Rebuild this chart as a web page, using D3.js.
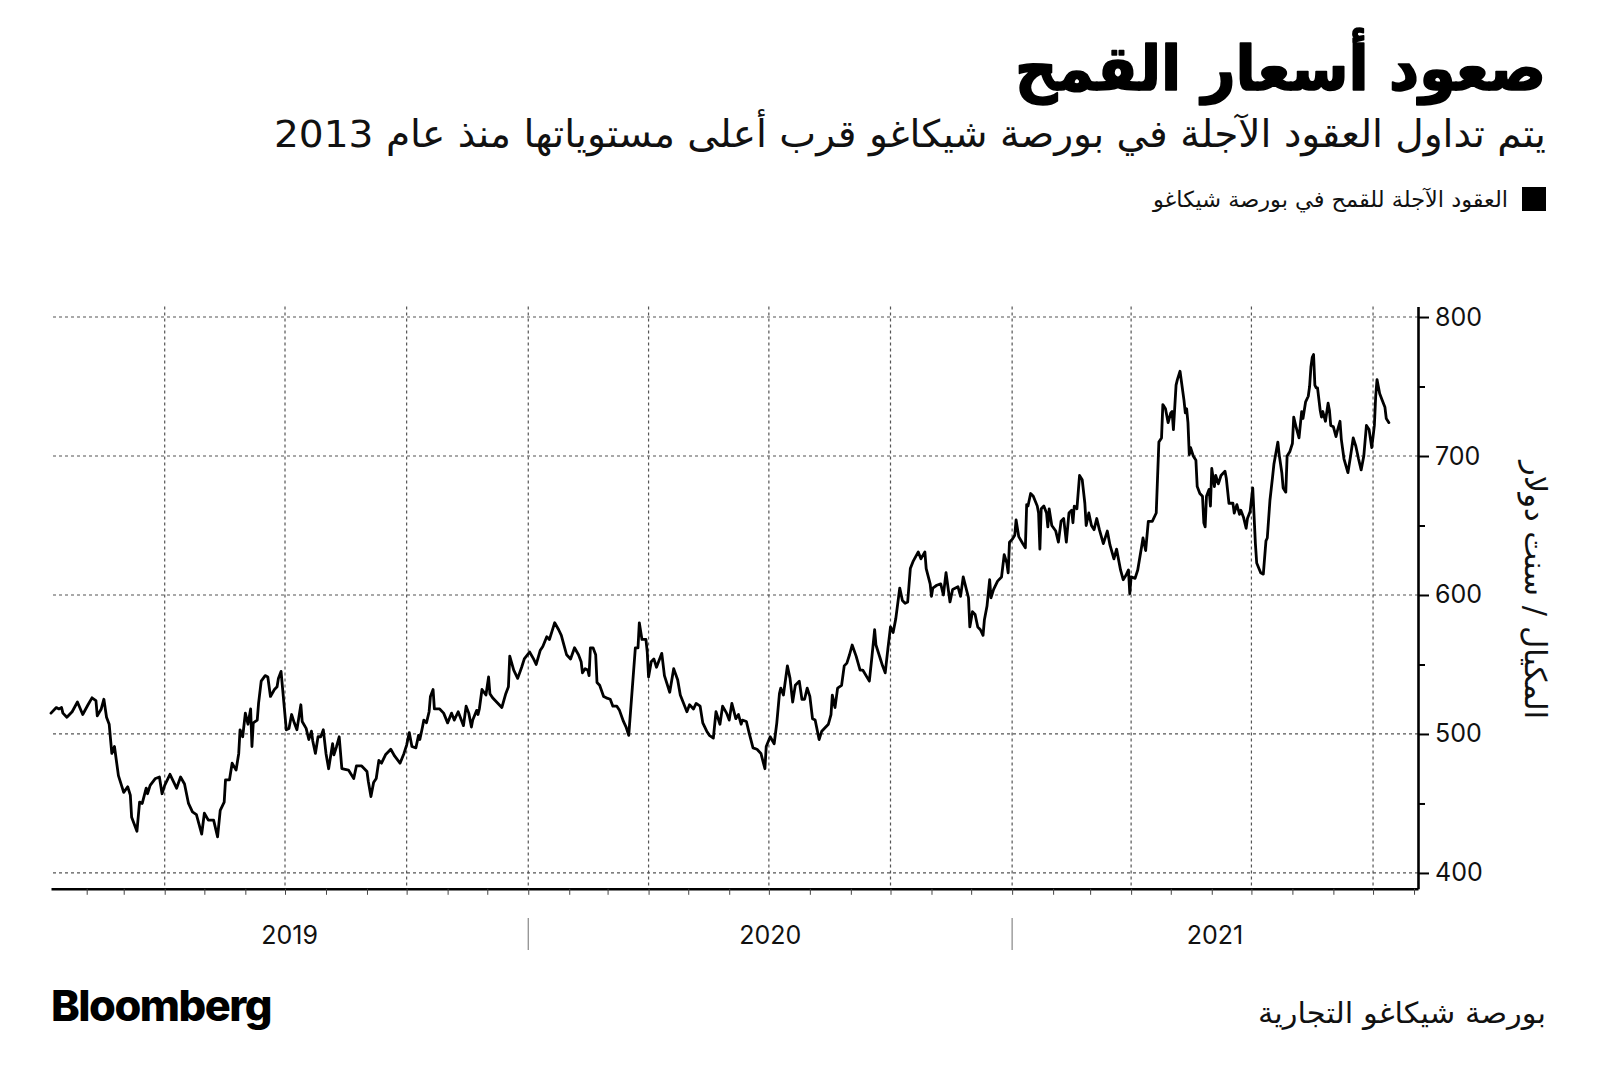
<!DOCTYPE html>
<html><head><meta charset="utf-8">
<script src="https://cdn.jsdelivr.net/npm/d3@7"></script>
<style>body{margin:0;background:#fff} svg{display:block}</style>
</head><body>
<svg id="chart" width="1600" height="1089"></svg>
<script>
// ---------------- data ----------------
const titleText = "صعود أسعار القمح";
const subtitleText = "يتم تداول العقود الآجلة في بورصة شيكاغو قرب أعلى مستوياتها منذ عام 2013";
const legendText = "العقود الآجلة للقمح في بورصة شيكاغو";
const yAxisTitle = "المكيال / سنت دولار";
const sourceText = "بورصة شيكاغو التجارية";
const yTickValues = [400, 500, 600, 700, 800];
const yMinorTickValues = [450, 550, 650, 750];
const yearLabels = ["2019", "2020", "2021"];

const dates = [
"2019-01-05","2019-01-09","2019-01-11","2019-01-13","2019-01-14","2019-01-17","2019-01-21","2019-01-25","2019-01-29","2019-02-02",
"2019-02-05","2019-02-08","2019-02-09","2019-02-12","2019-02-14","2019-02-16","2019-02-18","2019-02-20","2019-02-22","2019-02-25",
"2019-03-01","2019-03-04","2019-03-06","2019-03-07","2019-03-11","2019-03-13","2019-03-15","2019-03-18","2019-03-19","2019-03-21",
"2019-03-25","2019-03-28","2019-03-30","2019-04-01","2019-04-05","2019-04-07","2019-04-10","2019-04-13","2019-04-16","2019-04-19",
"2019-04-22","2019-04-25","2019-04-29","2019-05-01","2019-05-04","2019-05-08","2019-05-11","2019-05-13","2019-05-16","2019-05-17",
"2019-05-20","2019-05-22","2019-05-25","2019-05-27","2019-05-28","2019-05-30","2019-06-01","2019-06-03","2019-06-05","2019-06-06",
"2019-06-07","2019-06-10","2019-06-11","2019-06-13","2019-06-16","2019-06-18","2019-06-20","2019-06-23","2019-06-25","2019-06-26",
"2019-06-28",
"2019-07-02","2019-07-04","2019-07-06","2019-07-08","2019-07-10","2019-07-13","2019-07-14","2019-07-17","2019-07-19","2019-07-21",
"2019-07-22","2019-07-24","2019-07-26","2019-07-28","2019-07-30","2019-08-01","2019-08-03","2019-08-06","2019-08-07","2019-08-09",
"2019-08-11","2019-08-13","2019-08-18","2019-08-22","2019-08-24","2019-08-28","2019-09-01","2019-09-02","2019-09-04","2019-09-06",
"2019-09-08","2019-09-10","2019-09-12","2019-09-15","2019-09-19","2019-09-22","2019-09-26","2019-09-29","2019-10-01","2019-10-03",
"2019-10-05","2019-10-08","2019-10-10","2019-10-11","2019-10-13","2019-10-14","2019-10-16","2019-10-18","2019-10-19","2019-10-21",
"2019-10-22","2019-10-26","2019-10-29","2019-11-01","2019-11-04","2019-11-06","2019-11-09","2019-11-11","2019-11-13","2019-11-15",
"2019-11-17","2019-11-19","2019-11-20","2019-11-23","2019-11-24","2019-11-25","2019-11-27","2019-11-30","2019-12-02","2019-12-03",
"2019-12-05","2019-12-12","2019-12-15","2019-12-17",
"2019-12-18","2019-12-21","2019-12-24","2019-12-27","2019-12-29","2020-01-02","2020-01-05","2020-01-07","2020-01-10","2020-01-12",
"2020-01-15","2020-01-17","2020-01-19","2020-01-21","2020-01-24","2020-01-26","2020-01-28","2020-01-30","2020-02-02","2020-02-05",
"2020-02-08","2020-02-10","2020-02-11","2020-02-13","2020-02-15","2020-02-16","2020-02-17","2020-02-19","2020-02-21","2020-02-22",
"2020-02-24","2020-02-27","2020-02-29","2020-03-03","2020-03-05","2020-03-08","2020-03-10","2020-03-13","2020-03-15","2020-03-17",
"2020-03-22","2020-03-24","2020-03-25","2020-03-27","2020-03-30","2020-03-31","2020-04-01","2020-04-03","2020-04-05","2020-04-07",
"2020-04-11","2020-04-13","2020-04-17","2020-04-20","2020-04-23","2020-04-25","2020-04-30","2020-05-02","2020-05-05","2020-05-07",
"2020-05-10","2020-05-12","2020-05-15","2020-05-17","2020-05-20","2020-05-22","2020-05-25","2020-05-27","2020-05-30","2020-06-01",
"2020-06-03","2020-06-06","2020-06-08","2020-06-10","2020-06-11","2020-06-14","2020-06-16",
"2020-06-19","2020-06-22","2020-06-25","2020-06-28","2020-06-29","2020-07-02","2020-07-05","2020-07-07","2020-07-09","2020-07-10",
"2020-07-12","2020-07-15","2020-07-17","2020-07-19","2020-07-21","2020-07-24","2020-07-26","2020-07-28","2020-07-30","2020-08-01",
"2020-08-03","2020-08-05","2020-08-08","2020-08-10","2020-08-15","2020-08-17","2020-08-18","2020-08-20","2020-08-22","2020-08-25",
"2020-08-27","2020-08-29","2020-08-31","2020-09-02","2020-09-05","2020-09-08","2020-09-10","2020-09-15","2020-09-17","2020-09-19",
"2020-09-20","2020-09-23","2020-09-25","2020-09-27","2020-09-29","2020-10-01","2020-10-03","2020-10-05","2020-10-08","2020-10-10",
"2020-10-12","2020-10-14","2020-10-16","2020-10-18","2020-10-22","2020-10-24","2020-10-27","2020-10-28","2020-10-31","2020-11-01",
"2020-11-02","2020-11-05","2020-11-08","2020-11-10","2020-11-12","2020-11-14","2020-11-15","2020-11-17","2020-11-21","2020-11-23",
"2020-11-25","2020-11-29","2020-11-30","2020-12-02","2020-12-04","2020-12-06","2020-12-08","2020-12-10","2020-12-11","2020-12-13",
"2020-12-15","2020-12-16","2020-12-18","2020-12-21","2020-12-24","2020-12-26","2020-12-28","2020-12-29","2020-12-30","2021-01-01",
"2021-01-03","2021-01-04","2021-01-06","2021-01-09","2021-01-11","2021-01-12","2021-01-13","2021-01-15","2021-01-17","2021-01-20",
"2021-01-21","2021-01-22","2021-01-23","2021-01-25","2021-01-27","2021-01-28","2021-01-29","2021-01-31","2021-02-03","2021-02-05",
"2021-02-07","2021-02-09","2021-02-11","2021-02-13","2021-02-15","2021-02-16","2021-02-17","2021-02-19","2021-02-21","2021-02-23",
"2021-02-25","2021-02-26","2021-02-28","2021-03-02","2021-03-04","2021-03-06","2021-03-08","2021-03-11","2021-03-14","2021-03-16",
"2021-03-19","2021-03-21","2021-03-24","2021-03-26","2021-03-28","2021-03-30","2021-03-31","2021-04-01","2021-04-04","2021-04-06",
"2021-04-09","2021-04-10","2021-04-12","2021-04-14","2021-04-17","2021-04-20","2021-04-22","2021-04-24","2021-04-25","2021-04-27",
"2021-04-29","2021-05-01","2021-05-02","2021-05-03","2021-05-05","2021-05-06","2021-05-08","2021-05-11","2021-05-12","2021-05-13",
"2021-05-14","2021-05-15","2021-05-16","2021-05-18","2021-05-20","2021-05-21","2021-05-23","2021-05-25","2021-05-26","2021-05-27",
"2021-05-28","2021-05-30","2021-05-31","2021-06-01","2021-06-03","2021-06-04","2021-06-06","2021-06-08","2021-06-11","2021-06-12",
"2021-06-14",
"2021-06-17","2021-06-18","2021-06-20","2021-06-22","2021-06-23","2021-06-25","2021-06-27","2021-06-28","2021-06-30","2021-07-02",
"2021-07-04","2021-07-05","2021-07-08","2021-07-10","2021-07-12","2021-07-13","2021-07-15","2021-07-17","2021-07-18","2021-07-21",
"2021-07-22","2021-07-24","2021-07-25","2021-07-27","2021-07-28","2021-07-30","2021-08-01","2021-08-02","2021-08-04","2021-08-06",
"2021-08-08","2021-08-09","2021-08-11","2021-08-13","2021-08-14","2021-08-15","2021-08-16","2021-08-17","2021-08-18","2021-08-19",
"2021-08-20","2021-08-22","2021-08-23","2021-08-24","2021-08-26","2021-08-28","2021-08-29","2021-08-30","2021-09-01","2021-09-03",
"2021-09-04","2021-09-06","2021-09-07","2021-09-09","2021-09-12","2021-09-14","2021-09-16","2021-09-18","2021-09-20","2021-09-22",
"2021-09-24","2021-09-26","2021-09-28","2021-09-30","2021-10-01","2021-10-02","2021-10-03","2021-10-04","2021-10-06","2021-10-08",
"2021-10-10","2021-10-11","2021-10-13"
];

const prices = [
515,519,518,519,515,512,516,523,514,521,
526,524,513,518,525,512,507,486,491,470,
458,462,456,440,430,451,450,461,457,463,
468,469,457,463,471,467,461,469,464,450,
444,442,428,443,438,438,426,445,451,467,
467,479,474,486,503,498,515,507,518,491,
508,510,522,538,542,541,527,532,534,540,
545,
503,504,514,508,503,521,509,504,496,502,
495,486,498,498,503,486,475,493,485,491,
498,475,474,468,477,477,473,466,455,465,
468,481,479,485,489,484,479,486,492,501,
491,490,499,496,505,510,508,516,527,532,
518,518,515,508,515,510,516,511,506,520,
515,505,510,517,514,518,532,528,541,529,
526,519,529,534,
556,546,540,548,554,559,554,550,560,563,
570,568,574,580,575,571,564,557,554,562,
557,552,544,547,546,542,562,562,557,537,
535,527,526,525,520,520,517,509,505,499,
562,562,580,568,568,559,541,552,554,548,
558,542,530,547,539,528,516,521,518,522,
520,508,502,499,497,516,507,520,515,510,
522,511,514,507,510,509,501,
490,489,486,475,491,498,493,508,529,533,
528,549,540,523,535,538,525,525,533,527,
511,510,496,502,507,514,528,519,533,535,
549,551,557,564,556,546,546,538,556,575,
564,555,549,544,561,577,573,583,605,596,
594,595,619,624,631,626,631,619,608,599,
605,607,608,600,616,602,595,604,606,599,
613,598,577,588,586,577,575,571,582,592,
611,598,604,610,613,629,623,616,638,640,
643,654,642,637,634,665,664,673,671,664,
659,633,662,664,659,649,662,650,646,638,
653,655,638,659,661,652,664,662,686,683,
666,650,659,650,647,655,647,637,646,636,
626,633,618,611,614,618,601,613,612,618,
635,641,632,653,653,659,710,713,737,734,
724,731,732,719,751,755,761,740,731,734,
724,701,706,700,697,678,673,671,652,649,
671,676,664,691,678,686,680,686,689,684,
666,
666,659,665,658,661,656,648,655,660,677,
637,623,616,615,639,641,668,685,694,710,
701,688,677,674,700,703,709,728,720,713,
732,727,739,743,750,764,771,773,751,749,
749,733,728,732,725,738,733,722,721,714,
718,725,712,698,688,700,713,707,698,690,
700,722,719,706,714,722,743,755,745,740,
735,727,724
];

// ---------------- chart ----------------
const parse = d3.timeParse("%Y-%m-%d");
const series = dates.map((d, i) => ({ date: parse(d), value: prices[i] }));

const svg = d3.select("#chart");
const arabic = "'DejaVu Sans Condensed','DejaVu Sans',sans-serif";
const latin = "Inter, 'Liberation Sans', Arial, sans-serif";

const plotLeft = 51, plotRight = 1418, plotTop = 306.6, plotBottom = 888.8;

const x = d3.scaleTime()
  .domain([new Date(2019, 0, 5), new Date(2021, 10, 4)])
  .range([plotLeft, plotRight]);
const y = d3.scaleLinear()
  .domain([388.6, 807.5])
  .range([plotBottom, plotTop]);

// Horizontal gridlines
svg.append("g").selectAll("line").data(yTickValues).join("line")
  .attr("x1", plotLeft + 2).attr("x2", plotRight)
  .attr("y1", d => y(d)).attr("y2", d => y(d))
  .attr("stroke", "#555").attr("stroke-width", 1.2)
  .attr("stroke-dasharray", "3,3");

// Vertical gridlines at quarter starts
const quarters = d3.timeMonth.every(3).range(x.domain()[0], x.domain()[1]);
svg.append("g").selectAll("line").data(quarters).join("line")
  .attr("x1", d => x(d)).attr("x2", d => x(d))
  .attr("y1", plotTop).attr("y2", plotBottom)
  .attr("stroke", "#555").attr("stroke-width", 1.2)
  .attr("stroke-dasharray", "3,3");

// Bottom axis with monthly ticks
const xAxis = d3.axisBottom(x)
  .ticks(d3.timeMonth.every(1))
  .tickSize(6).tickSizeOuter(0).tickFormat("");
const gx = svg.append("g").attr("transform", `translate(0,${plotBottom})`).call(xAxis);
gx.select(".domain").attr("stroke", "#000").attr("stroke-width", 2.6);
gx.selectAll(".tick line").attr("stroke", "#444").attr("stroke-width", 1);

// Right axis: minor ticks
const yMinor = d3.axisRight(y).tickValues(yMinorTickValues).tickSize(7).tickFormat("");
const gyMinor = svg.append("g").attr("transform", `translate(${plotRight},0)`).call(yMinor);
gyMinor.select(".domain").remove();
gyMinor.selectAll(".tick line").attr("stroke", "#000").attr("stroke-width", 2);

// Right axis: major ticks + labels
const yAxis = d3.axisRight(y).tickValues(yTickValues).tickSize(11).tickSizeOuter(0).tickPadding(6);
const gy = svg.append("g").attr("transform", `translate(${plotRight},0)`).call(yAxis);
gy.select(".domain").attr("stroke", "#000").attr("stroke-width", 2.6);
gy.selectAll(".tick line").attr("stroke", "#000").attr("stroke-width", 2);
gy.selectAll(".tick text")
  .attr("font-family", latin).attr("font-size", 25).attr("fill", "#111");

// Y axis title (rotated, reading top to bottom)
svg.append("text")
  .attr("transform", `translate(1525,590) rotate(90)`)
  .attr("direction", "rtl")
  .attr("text-anchor", "middle")
  .attr("font-family", arabic).attr("font-size", 30).attr("fill", "#111")
  .attr("textLength", 258).attr("lengthAdjust", "spacingAndGlyphs")
  .text(yAxisTitle);

// Year labels and separators
const yearStarts = [x.domain()[0], new Date(2020, 0, 1), new Date(2021, 0, 1), x.domain()[1]];
svg.append("g").selectAll("text").data(yearLabels).join("text")
  .attr("x", (d, i) => (x(yearStarts[i]) + x(yearStarts[i + 1])) / 2)
  .attr("y", 944)
  .attr("text-anchor", "middle")
  .attr("font-family", latin).attr("font-size", 25).attr("fill", "#111")
  .text(d => d);
svg.append("g").selectAll("line").data(yearStarts.slice(1, 3)).join("line")
  .attr("x1", d => x(d)).attr("x2", d => x(d))
  .attr("y1", 918).attr("y2", 950)
  .attr("stroke", "#888").attr("stroke-width", 1.2);

// Price line
const line = d3.line().x(d => x(d.date)).y(d => y(d.value));
svg.append("path").datum(series)
  .attr("d", line)
  .attr("fill", "none").attr("stroke", "#000")
  .attr("stroke-width", 2.8).attr("stroke-linejoin", "round").attr("stroke-linecap", "round");

// Title block
svg.append("text")
  .attr("x", 1546).attr("y", 90)
  .attr("direction", "rtl").attr("text-anchor", "start")
  .attr("font-family", arabic).attr("font-weight", 700).attr("font-size", 62)
  .attr("textLength", 531).attr("lengthAdjust", "spacingAndGlyphs")
  .attr("fill", "#000").attr("stroke", "#000").attr("stroke-width", 1.6)
  .attr("stroke-linejoin", "round")
  .text(titleText);

svg.append("text")
  .attr("x", 1546).attr("y", 147)
  .attr("direction", "rtl").attr("text-anchor", "start")
  .attr("font-family", arabic).attr("font-size", 38)
  .attr("textLength", 1272).attr("lengthAdjust", "spacingAndGlyphs")
  .attr("fill", "#111")
  .text(subtitleText);

// Legend
svg.append("rect")
  .attr("x", 1522).attr("y", 187).attr("width", 24).attr("height", 24)
  .attr("fill", "#000");
svg.append("text")
  .attr("x", 1508).attr("y", 207)
  .attr("direction", "rtl").attr("text-anchor", "start")
  .attr("font-family", arabic).attr("font-size", 22)
  .attr("textLength", 355).attr("lengthAdjust", "spacingAndGlyphs")
  .attr("fill", "#111")
  .text(legendText);

// Footer
svg.append("text")
  .attr("x", 51).attr("y", 1021)
  .attr("font-family", latin).attr("font-weight", 800).attr("font-size", 43)
  .attr("letter-spacing", -1.5)
  .attr("textLength", 220).attr("lengthAdjust", "spacingAndGlyphs")
  .attr("fill", "#000")
  .text("Bloomberg");

svg.append("text")
  .attr("x", 1546).attr("y", 1023)
  .attr("direction", "rtl").attr("text-anchor", "start")
  .attr("font-family", arabic).attr("font-size", 29)
  .attr("textLength", 288).attr("lengthAdjust", "spacingAndGlyphs")
  .attr("fill", "#111")
  .text(sourceText);
</script>
</body></html>
